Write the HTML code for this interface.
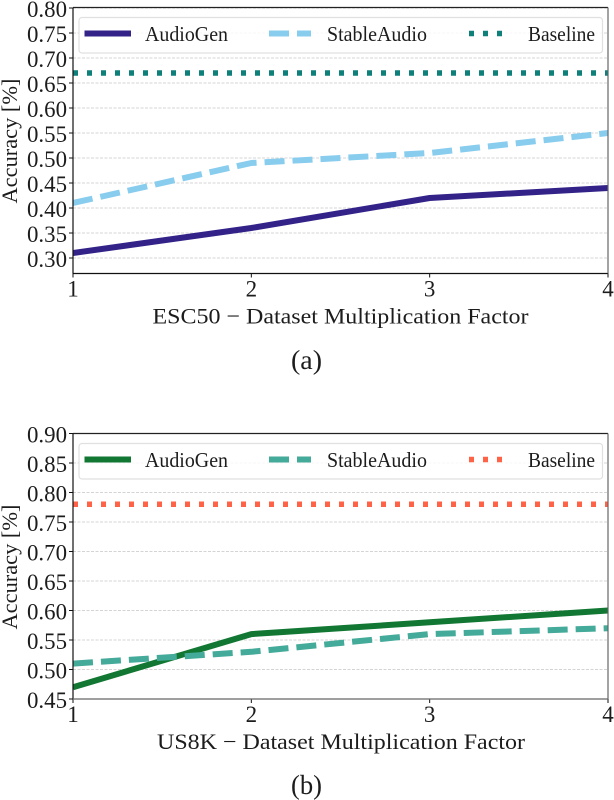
<!DOCTYPE html>
<html>
<head>
<meta charset="utf-8">
<title>Accuracy vs Dataset Multiplication Factor</title>
<style>
html,body{margin:0;padding:0;background:#fff;}
svg{display:block;}
text{font-family:"Liberation Serif",serif;fill:#1c1c1c;}
</style>
</head>
<body>
<svg id="fig" xmlns="http://www.w3.org/2000/svg" width="614" height="800" viewBox="0 0 614 800"></svg>
<script>
const categories = [1, 2, 3, 4];
const esc50AudioGen = [0.31, 0.36, 0.42, 0.44];
const esc50StableAudio = [0.41, 0.49, 0.51, 0.55];
const esc50Baseline = [0.67, 0.67, 0.67, 0.67];
const esc50Ticks = ["0.30", "0.35", "0.40", "0.45", "0.50", "0.55", "0.60", "0.65", "0.70", "0.75", "0.80"];
const us8kAudioGen = [0.47, 0.56, 0.58, 0.60];
const us8kStableAudio = [0.51, 0.53, 0.56, 0.57];
const us8kBaseline = [0.78, 0.78, 0.78, 0.78];
const us8kTicks = ["0.45", "0.50", "0.55", "0.60", "0.65", "0.70", "0.75", "0.80", "0.85", "0.90"];
const seriesNames = ["AudioGen", "StableAudio", "Baseline"];

const NS = "http://www.w3.org/2000/svg";
const fig = document.getElementById("fig");

function shape(parent, tag, props) {
  const el = document.createElementNS(NS, tag);
  for (const k in props) el.setAttribute(k, props[k]);
  parent.appendChild(el);
  return el;
}
function label(parent, str, x, y, size, anchor, len) {
  const el = document.createElementNS(NS, "text");
  el.setAttribute("x", x);
  el.setAttribute("y", y);
  el.setAttribute("font-size", size);
  el.setAttribute("text-anchor", anchor);
  if (len) {
    el.setAttribute("textLength", len);
    el.setAttribute("lengthAdjust", "spacingAndGlyphs");
  }
  el.textContent = str;
  parent.appendChild(el);
  return el;
}

function drawPanel(p) {
  const g = shape(fig, "g", {});
  
  

  const xMin = categories[0], xMax = categories[categories.length - 1];
  const xScale = v => p.left + (v - xMin) / (xMax - xMin) * (p.right - p.left);
  const yScale = v => p.y0 + (v - p.v0) / (p.v1 - p.v0) * (p.y1 - p.y0);

  const clip = shape(g, "clipPath", { id: p.id + "-clip" });
  shape(clip, "rect", { x: p.left, y: p.top, width: p.right - p.left, height: p.bottom - p.top });

  p.ticks.forEach(t => {
    const y = yScale(parseFloat(t));
    const grid = shape(g, "line", { x1: p.left, x2: p.right, y1: y, y2: y, stroke: "#d4d4d4", "stroke-width": 1, "stroke-dasharray": "3 1.5" });
    
    
    const tick = shape(g, "line", { x1: p.left - 4, x2: p.left, y1: y, y2: y, stroke: "#111", "stroke-width": 1 });
    
    
    const tl = label(g, t, 67, y + 8.8, 23, "end", 40);
    
    
  });

  p.series.forEach((s, i) => {
    const pts = categories.map((c, j) => xScale(c) + "," + yScale(s.values[j])).join(" ");
    const line = shape(g, "polyline", { points: pts, fill: "none", stroke: s.color, "stroke-width": s.width, "stroke-dasharray": s.dash, "stroke-linejoin": "round", "clip-path": "url(#" + p.id + "-clip)" });
    
    
  });

  const lg = shape(g, "g", {});
  
  
  shape(lg, "rect", { x: 79, y: p.legendTop, width: 523.5, height: 35.5, rx: 3, fill: "#fff", "fill-opacity": 0.8, stroke: "#e0e0e0", "stroke-width": 1.2 });
  const keyX = [[84.5, 131], [269, 311], [469, 503]];
  const textX = [[145, 83], [327, 100], [528, 67]];
  p.series.forEach((s, i) => {
    const ly = p.legendTop + 16;
    const key = shape(lg, "line", { x1: keyX[i][0], x2: keyX[i][1], y1: ly, y2: ly, stroke: s.color, "stroke-width": s.width, "stroke-dasharray": s.dash });
    
    
    const lt = label(lg, seriesNames[i], textX[i][0], ly + 7.5, 21.5, "start", textX[i][1]);
    
    
  });

  categories.forEach(c => {
    const x = xScale(c);
    const tick = shape(g, "line", { x1: x, x2: x, y1: p.bottom, y2: p.bottom + 4, stroke: "#111", "stroke-width": 1 });
    
    
    const tl = label(g, String(c), x, p.bottom + 23, 23, "middle");
    
    
  });

  const spines = [
    [p.left, p.top, p.right, p.top, "#222"],
    [p.left, p.top, p.left, p.bottom, "#111"],
    [p.left, p.bottom, p.right, p.bottom, p.bottomColor],
    [p.right, p.top, p.right, p.bottom, "#666"]
  ];
  spines.forEach((sp, i) => {
    const line = shape(g, "line", { x1: sp[0], y1: sp[1], x2: sp[2], y2: sp[3], stroke: sp[4], "stroke-width": 1.2 });
    
    
  });

  const xt = label(g, p.xTitle, p.xTitleX, p.bottom + 50, 22.5, "middle", p.xTitleLen);
  
  

  const yt = label(g, "Accuracy [%]", 0, 0, 22.5, "middle", 125);
  yt.setAttribute("transform", "translate(17," + p.yTitleY + ") rotate(-90)");
  
  

  const cap = label(g, p.caption, 306.5, p.captionY, 27, "middle", 31);
  
  
}

drawPanel({
  id: "esc50", left: 73, right: 608, top: 7.5, bottom: 273.5,
  v0: 0.30, y0: 258, v1: 0.80, y1: 8,
  ticks: esc50Ticks, legendTop: 17.5, bottomColor: "#111",
  xTitle: "ESC50 − Dataset Multiplication Factor", xTitleX: 340.5, xTitleLen: 376,
  yTitleY: 141, caption: "(a)", captionY: 369,
  series: [
    { values: esc50AudioGen, color: "#332288", dash: "none", width: 6 },
    { values: esc50StableAudio, color: "#88ccee", dash: "20 8", width: 6 },
    { values: esc50Baseline, color: "#0f7f7a", dash: "5 9", width: 5.5 }
  ]
});
drawPanel({
  id: "us8k", left: 73, right: 608, top: 433.5, bottom: 699,
  v0: 0.45, y0: 699, v1: 0.90, y1: 433.5,
  ticks: us8kTicks, legendTop: 443.5, bottomColor: "#666",
  xTitle: "US8K − Dataset Multiplication Factor", xTitleX: 341, xTitleLen: 368,
  yTitleY: 567, caption: "(b)", captionY: 794,
  series: [
    { values: us8kAudioGen, color: "#117733", dash: "none", width: 6 },
    { values: us8kStableAudio, color: "#44aa99", dash: "20 8", width: 6 },
    { values: us8kBaseline, color: "#ff6347", dash: "5 9", width: 5.5 }
  ]
});
</script>
</body>
</html>
